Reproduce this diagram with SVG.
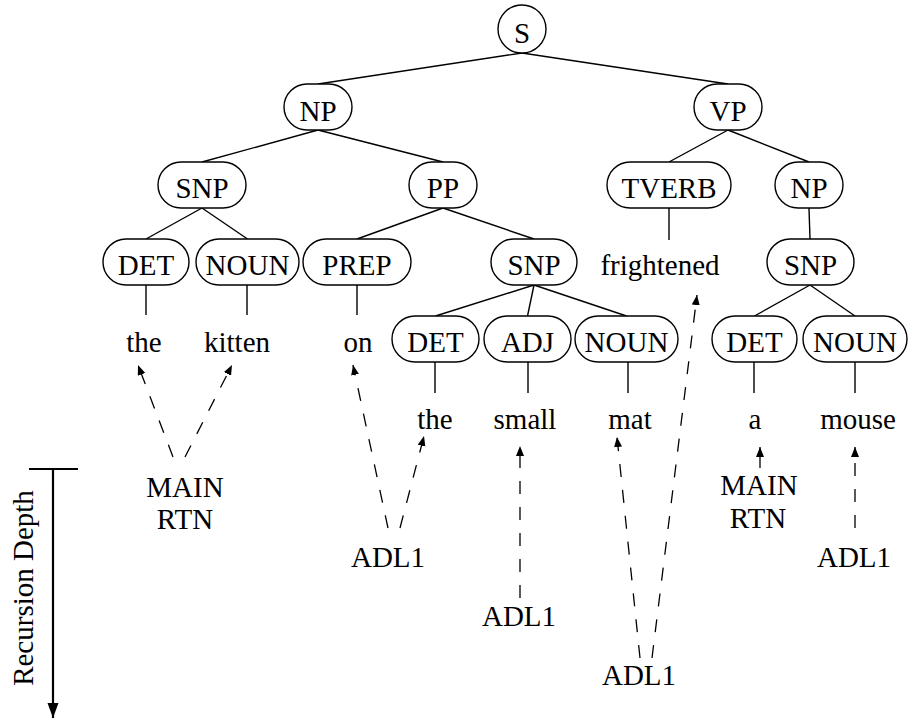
<svg xmlns="http://www.w3.org/2000/svg" width="912" height="720" viewBox="0 0 912 720">
  <style>
    text { font-family: 'Liberation Serif', 'DejaVu Serif', 'Noto Serif', serif; font-size: 29px; fill: #000; }
    .c { text-anchor: middle; }
    .node { fill: #fff; stroke: #000; stroke-width: 1.4; }
    .edge { stroke: #000; stroke-width: 1.4; fill: none; }
    .call { stroke: #000; stroke-width: 1.3; fill: none; stroke-dasharray: 13 13; marker-end: url(#tip); }
    .axis { stroke: #000; stroke-width: 2.2; fill: none; }
  </style>
  <defs>
    <marker id="tip" markerUnits="userSpaceOnUse" markerWidth="11" markerHeight="9" refX="10" refY="4" orient="auto">
      <path d="M0,0 L10,4 L0,8 z" fill="#000"/>
    </marker>
    <marker id="axisTip" markerUnits="userSpaceOnUse" markerWidth="16" markerHeight="12" refX="15" refY="5.5" orient="auto">
      <path d="M0,0 L15,5.5 L0,11 z" fill="#000"/>
    </marker>
  </defs>

  <!-- tree edges -->
  <g id="edges">
    <line class="edge" x1="522" y1="53" x2="318" y2="84"/>
    <line class="edge" x1="522" y1="53" x2="728" y2="84"/>
    <line class="edge" x1="318" y1="130" x2="202" y2="162"/>
    <line class="edge" x1="318" y1="130" x2="443" y2="162"/>
    <line class="edge" x1="728" y1="130" x2="669" y2="162"/>
    <line class="edge" x1="728" y1="130" x2="809" y2="162"/>
    <line class="edge" x1="202" y1="208" x2="146" y2="239"/>
    <line class="edge" x1="202" y1="208" x2="247.5" y2="239"/>
    <line class="edge" x1="443" y1="208" x2="357" y2="239"/>
    <line class="edge" x1="443" y1="208" x2="534" y2="239"/>
    <line class="edge" x1="669" y1="208" x2="669" y2="240"/>
    <line class="edge" x1="809" y1="208" x2="810" y2="239"/>
    <line class="edge" x1="534" y1="285" x2="435.5" y2="316"/>
    <line class="edge" x1="534" y1="285" x2="527.5" y2="316"/>
    <line class="edge" x1="534" y1="285" x2="626.5" y2="316"/>
    <line class="edge" x1="810" y1="285" x2="754.5" y2="316"/>
    <line class="edge" x1="810" y1="285" x2="855" y2="316"/>
    <!-- terminal stems -->
    <line class="edge" x1="146" y1="285" x2="146" y2="315"/>
    <line class="edge" x1="247" y1="285" x2="247" y2="315"/>
    <line class="edge" x1="357" y1="285" x2="357" y2="315"/>
    <line class="edge" x1="435" y1="362" x2="435" y2="393"/>
    <line class="edge" x1="528" y1="362" x2="528" y2="393"/>
    <line class="edge" x1="628" y1="362" x2="628" y2="393"/>
    <line class="edge" x1="754" y1="362" x2="754" y2="393"/>
    <line class="edge" x1="855" y1="362" x2="855" y2="393"/>
  </g>

  <!-- routine call arrows -->
  <g id="calls">
    <line class="call" x1="173" y1="457" x2="138" y2="365"/>
    <line class="call" x1="185" y1="457" x2="232" y2="365"/>
    <line class="call" x1="388" y1="528" x2="353" y2="365"/>
    <line class="call" x1="400" y1="528" x2="424" y2="436"/>
    <line class="call" x1="520" y1="598" x2="520" y2="446"/>
    <line class="call" x1="640" y1="658" x2="617" y2="437"/>
    <line class="call" x1="652" y1="658" x2="697" y2="295"/>
    <line class="call" x1="760" y1="468" x2="760" y2="447" style="stroke-dasharray:none"/>
    <line class="call" x1="855" y1="528" x2="855" y2="447"/>
  </g>

  <!-- nonterminal nodes -->
  <g id="n-S"><circle class="node" cx="522" cy="29" r="24"/><text class="c" x="522" y="43">S</text></g>
  <g id="n-NP"><rect class="node" x="284" y="84" width="68" height="46" rx="23"/><text class="c" x="318" y="121">NP</text></g>
  <g id="n-VP"><rect class="node" x="694" y="84" width="68" height="46" rx="23"/><text class="c" x="728" y="121">VP</text></g>
  <g id="n-SNP1"><rect class="node" x="158" y="162" width="88" height="46" rx="23"/><text class="c" x="202" y="198">SNP</text></g>
  <g id="n-PP"><rect class="node" x="409" y="162" width="68" height="46" rx="23"/><text class="c" x="443" y="198">PP</text></g>
  <g id="n-TVERB"><rect class="node" x="607" y="162" width="124" height="46" rx="23"/><text class="c" x="669" y="198">TVERB</text></g>
  <g id="n-NP2"><rect class="node" x="775" y="162" width="68" height="46" rx="23"/><text class="c" x="809" y="198">NP</text></g>
  <g id="n-DET1"><rect class="node" x="103" y="239" width="86" height="46" rx="23"/><text class="c" x="146" y="275">DET</text></g>
  <g id="n-NOUN1"><rect class="node" x="196" y="239" width="103" height="46" rx="23"/><text class="c" x="247.5" y="275">NOUN</text></g>
  <g id="n-PREP"><rect class="node" x="303" y="239" width="108" height="46" rx="23"/><text class="c" x="357" y="275">PREP</text></g>
  <g id="n-SNP2"><rect class="node" x="491" y="239" width="86" height="46" rx="23"/><text class="c" x="534" y="275">SNP</text></g>
  <g id="n-SNP3"><rect class="node" x="767" y="239" width="87" height="46" rx="23"/><text class="c" x="810.5" y="275">SNP</text></g>
  <g id="n-DET2"><rect class="node" x="392" y="316" width="87" height="46" rx="23"/><text class="c" x="435.5" y="352">DET</text></g>
  <g id="n-ADJ"><rect class="node" x="484" y="316" width="87" height="46" rx="23"/><text class="c" x="527.5" y="352">ADJ</text></g>
  <g id="n-NOUN2"><rect class="node" x="575" y="316" width="103" height="46" rx="23"/><text class="c" x="626.5" y="352">NOUN</text></g>
  <g id="n-DET3"><rect class="node" x="712" y="316" width="85" height="46" rx="23"/><text class="c" x="754.5" y="352">DET</text></g>
  <g id="n-NOUN3"><rect class="node" x="803" y="316" width="104" height="46" rx="23"/><text class="c" x="855" y="352">NOUN</text></g>

  <!-- terminal words -->
  <g id="words">
    <text class="c" x="144" y="352">the</text>
    <text class="c" x="237" y="352">kitten</text>
    <text class="c" x="358" y="352">on</text>
    <text class="c" x="660" y="275">frightened</text>
    <text class="c" x="435" y="429">the</text>
    <text class="c" x="525" y="429">small</text>
    <text class="c" x="630" y="429">mat</text>
    <text class="c" x="755" y="429">a</text>
    <text class="c" x="858" y="429">mouse</text>
  </g>

  <!-- routine labels -->
  <g id="routines">
    <text class="c" x="185" y="497">MAIN</text>
    <text class="c" x="185" y="529">RTN</text>
    <text class="c" x="388" y="567">ADL1</text>
    <text class="c" x="519" y="626">ADL1</text>
    <text class="c" x="639" y="685">ADL1</text>
    <text class="c" x="759" y="495">MAIN</text>
    <text class="c" x="758" y="528">RTN</text>
    <text class="c" x="854" y="567">ADL1</text>
  </g>

  <!-- recursion depth axis -->
  <g id="depth-axis">
    <line class="axis" x1="29" y1="469" x2="78" y2="469"/>
    <line class="axis" x1="53" y1="469" x2="53" y2="718" marker-end="url(#axisTip)"/>
    <text class="c" transform="translate(33,588) rotate(-90)" x="0" y="0">Recursion Depth</text>
  </g>
</svg>
